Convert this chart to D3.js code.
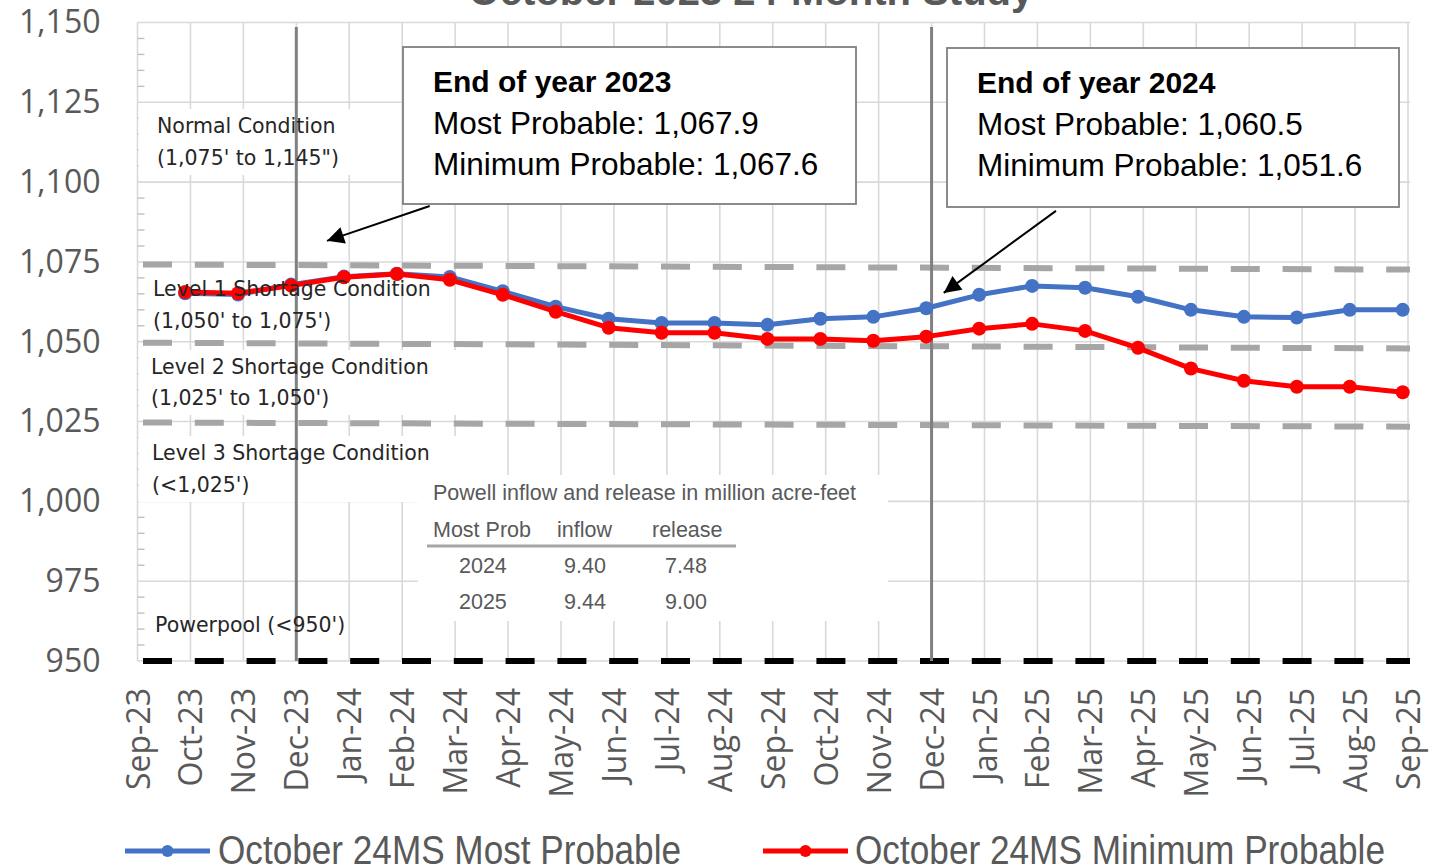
<!DOCTYPE html>
<html><head><meta charset="utf-8">
<script src="https://cdn.jsdelivr.net/npm/d3@7"></script>
<style>body{margin:0;background:#fff;overflow:hidden} svg{display:block}</style>
</head><body>
<svg id="c" width="1437" height="867"></svg>
<script>
// ---------- data ----------
const months = ["Sep-23","Oct-23","Nov-23","Dec-23","Jan-24","Feb-24","Mar-24","Apr-24","May-24","Jun-24","Jul-24","Aug-24","Sep-24","Oct-24","Nov-24","Dec-24","Jan-25","Feb-25","Mar-25","Apr-25","May-25","Jun-25","Jul-25","Aug-25","Sep-25"];
const seriesMonths = months.slice(1);
const mostProbable = [1065.2,1064.8,1067.9,1070.4,1071.3,1070.3,1065.8,1061.0,1057.2,1055.9,1055.9,1055.3,1057.2,1057.8,1060.5,1064.7,1067.5,1066.9,1064.1,1060.0,1057.8,1057.6,1060.0,1060.0];
const minProbable  = [1065.6,1065.2,1067.6,1070.2,1071.2,1069.4,1064.7,1059.4,1054.4,1052.8,1052.8,1050.9,1050.9,1050.3,1051.6,1054.1,1055.6,1053.4,1048.1,1041.6,1037.8,1035.9,1035.9,1034.2];
const yTicks = [950,975,1000,1025,1050,1075,1100,1125,1150];
const thresholdStart = [1074.2,1049.7,1024.7,950];
const thresholdEnd   = [1072.6,1047.9,1023.4,950];
const thresholdColor = ["#a6a6a6","#a6a6a6","#a6a6a6","#000000"];
const endOfYearMarks = ["Dec-23","Dec-24"];
const conditionLabels = [
  ["Normal Condition","(1,075' to 1,145\")"],
  ["Level 1 Shortage Condition","(1,050' to 1,075')"],
  ["Level 2 Shortage Condition","(1,025' to 1,050')"],
  ["Level 3 Shortage Condition","(<1,025')"],
  ["Powerpool (<950')"]
];
const annotations = [
  ["End of year 2023","Most Probable: 1,067.9","Minimum Probable: 1,067.6"],
  ["End of year 2024","Most Probable: 1,060.5","Minimum Probable: 1,051.6"]
];
const tableTitle = "Powell inflow and release in million acre-feet";
const tableHeader = ["Most Prob","inflow","release"];
const tableYears = ["2024","2025"];
const tableInflow = ["9.40","9.44"];
const tableRelease = ["7.48","9.00"];
const seriesNames = ["October 24MS Most Probable","October 24MS Minimum Probable"];
const titleText = "October 2023 24-Month Study";

// ---------- layout ----------
const svg = d3.select("#c");
const x = d3.scaleLinear().domain([0,24]).range([137.5,1408]);
const y = d3.scaleLinear().domain([950,1150]).range([661,22.5]);
const ptOffset = -0.1;          // points sit slightly before month gridlines
const plotRight = 1410;
const grey = "#595959";

// title (cut by top edge as in the reference)
svg.append("text").attr("x",751).attr("y",5).attr("text-anchor","middle")
  .style("font-family","Liberation Sans, Arial, sans-serif").style("font-weight","bold")
  .style("font-size","40px").attr("fill",grey).text(titleText);

// gridlines
const g = svg.append("g");
g.selectAll(".vg").data(months).join("line")
  .attr("x1",(d,i)=>x(i)).attr("x2",(d,i)=>x(i))
  .attr("y1",y(1150)).attr("y2",y(950)).attr("stroke","#d9d9d9").attr("stroke-width",1.6);
g.selectAll(".hg").data(yTicks).join("line")
  .attr("x1",x(0)).attr("x2",plotRight).attr("y1",d=>y(d)).attr("y2",d=>y(d))
  .attr("stroke","#d9d9d9").attr("stroke-width",1.6);
g.selectAll(".mt").data(d3.range(955,1150,5).filter(v=>v%25!==0)).join("line")
  .attr("x1",x(0)).attr("x2",x(0)+7).attr("y1",d=>y(d)).attr("y2",d=>y(d))
  .attr("stroke","#bfbfbf").attr("stroke-width",1.4);

// label layout
const labelPos = [[157,133,165],[153,296,328],[151,374,405],[152,460,492],[155,632]];
const labelFill = [true,false,true,true,false];
const labelFont = "DejaVu Sans, sans-serif";
const bgLayer = svg.append("g");

// thresholds
svg.append("g").selectAll("line").data(thresholdStart).join("line")
  .attr("x1",143).attr("x2",plotRight)
  .attr("y1",d=>y(d)).attr("y2",(d,i)=>y(thresholdEnd[i]))
  .attr("stroke",(d,i)=>thresholdColor[i]).attr("stroke-width",6)
  .attr("stroke-dasharray","29,22.8");

// end of year vertical lines
svg.append("g").selectAll("line").data(endOfYearMarks).join("line")
  .attr("x1",d=>x(months.indexOf(d))).attr("x2",d=>x(months.indexOf(d)))
  .attr("y1",27).attr("y2",y(950)).attr("stroke","#808080").attr("stroke-width",3);

// y axis labels
const yAxis = svg.append("g").attr("transform",`translate(${x(0)},0)`)
  .call(d3.axisLeft(y).tickValues(yTicks).tickFormat(d3.format(",")).tickSize(0).tickPadding(37));
yAxis.select(".domain").remove();
yAxis.selectAll("text").style("font-family","Open Sans, sans-serif").style("font-size","32px").attr("fill",grey);

// x axis labels
const xAxis = svg.append("g").attr("transform",`translate(0,${y(950)})`)
  .call(d3.axisBottom(x).tickValues(d3.range(months.length)).tickFormat(i=>months[i]).tickSize(0));
xAxis.select(".domain").remove();
xAxis.selectAll("text").attr("y",0).attr("x",-27).attr("dy","0.36em")
  .attr("transform","rotate(-90)").style("text-anchor","end")
  .style("font-family","Open Sans, sans-serif").style("font-size","32px").attr("fill",grey);

// table (white box)
const tbl = svg.append("g");
tbl.append("rect").attr("x",418).attr("y",475).attr("width",470).attr("height",146).attr("fill","#fff");
const tfont = "Liberation Sans, Arial, sans-serif";
tbl.append("text").attr("x",433).attr("y",500).text(tableTitle);
const hx=[433,557,652];
tbl.selectAll(".th").data(tableHeader).join("text").attr("x",(d,i)=>hx[i]).attr("y",537).text(d=>d);
tbl.append("line").attr("x1",427).attr("x2",736).attr("y1",546).attr("y2",546).attr("stroke","#a6a6a6").attr("stroke-width",3);
tableYears.forEach((yr,i)=>{
  const by = 573+i*36;
  tbl.append("text").attr("x",459).attr("y",by).text(yr);
  tbl.append("text").attr("x",564).attr("y",by).text(tableInflow[i]);
  tbl.append("text").attr("x",665).attr("y",by).text(tableRelease[i]);
});
tbl.selectAll("text").style("font-family",tfont).style("font-size","21.5px").attr("fill",grey);

// series
const line = d3.line().x((d,i)=>x(i+1+ptOffset)).y(d=>y(d));
const series = [[mostProbable,"#4472C4"],[minProbable,"#FF0000"]];
series.forEach(([vals,col])=>{
  const s = svg.append("g");
  s.append("path").datum(vals).attr("d",line).attr("fill","none").attr("stroke",col)
    .attr("stroke-width",5).attr("stroke-linejoin","round");
  s.selectAll("circle").data(vals).join("circle")
    .attr("cx",(d,i)=>x(i+1+ptOffset)).attr("cy",d=>y(d)).attr("r",7).attr("fill",col);
});

// condition labels
const lbl = svg.append("g");
conditionLabels.forEach((lines,k)=>{
  const p = labelPos[k];
  const tg = lbl.append("g");
  lines.forEach((t,j)=>{
    tg.append("text").attr("x",p[0]).attr("y",p[1+j]).text(t)
      .style("font-family",labelFont).style("font-size","20.5px").attr("fill","#262626");
  });
  if(labelFill[k]){
    const bb = tg.node().getBBox();
    bgLayer.append("rect").attr("x",x(0)+1).attr("y",bb.y-5)
      .attr("width",bb.x+bb.width+55-x(0)).attr("height",bb.height+10).attr("fill","#fff");
  }
});

// annotation boxes
const boxPos = [[403,47,453,157],[947,48,452,159]];
annotations.forEach((lines,k)=>{
  const [bx,by,bw,bh] = boxPos[k];
  const ag = svg.append("g");
  ag.append("rect").attr("x",bx).attr("y",by).attr("width",bw).attr("height",bh)
    .attr("fill","#fff").attr("stroke","#7f7f7f").attr("stroke-width",1.8);
  lines.forEach((t,j)=>{
    ag.append("text").attr("x",bx+30).attr("y",by+45+j*41.5).text(t)
      .style("font-family","Liberation Sans, Arial, sans-serif")
      .style("font-size", j===0?"30px":"31.5px").style("font-weight",j===0?"bold":"normal")
      .attr("fill","#000");
  });
});

// arrows (tail -> tip in data space: month index, elevation)
const arrows = [[[5.52,1092.5],[3.58,1081.6]],[[17.35,1091.0],[15.23,1065.3]]];
svg.append("defs").append("marker").attr("id","ah").attr("viewBox","0 0 10 10")
  .attr("refX",10).attr("refY",5).attr("markerWidth",24).attr("markerHeight",17)
  .attr("markerUnits","userSpaceOnUse").attr("orient","auto")
  .append("path").attr("d","M0,0L10,5L0,10z").attr("fill","#000");
svg.append("g").selectAll("line").data(arrows).join("line")
  .attr("x1",d=>x(d[0][0])).attr("y1",d=>y(d[0][1]))
  .attr("x2",d=>x(d[1][0])).attr("y2",d=>y(d[1][1]))
  .attr("stroke","#000").attr("stroke-width",2).attr("marker-end","url(#ah)");

// legend
const legX = [[125,210,218,463],[763,848,855,530]];
const leg = svg.append("g");
seriesNames.forEach((n,i)=>{
  const [a,b,t,w] = legX[i];
  const col = series[i][1];
  leg.append("line").attr("x1",a).attr("x2",b).attr("y1",851).attr("y2",851).attr("stroke",col).attr("stroke-width",5);
  leg.append("circle").attr("cx",(a+b)/2).attr("cy",851).attr("r",6).attr("fill",col);
  leg.append("text").attr("x",t).attr("y",864).text(n)
    .attr("textLength",w).attr("lengthAdjust","spacingAndGlyphs")
    .style("font-family","Liberation Sans, Arial, sans-serif")
    .style("font-size","41px").attr("fill",grey);
});
</script>
</body></html>
